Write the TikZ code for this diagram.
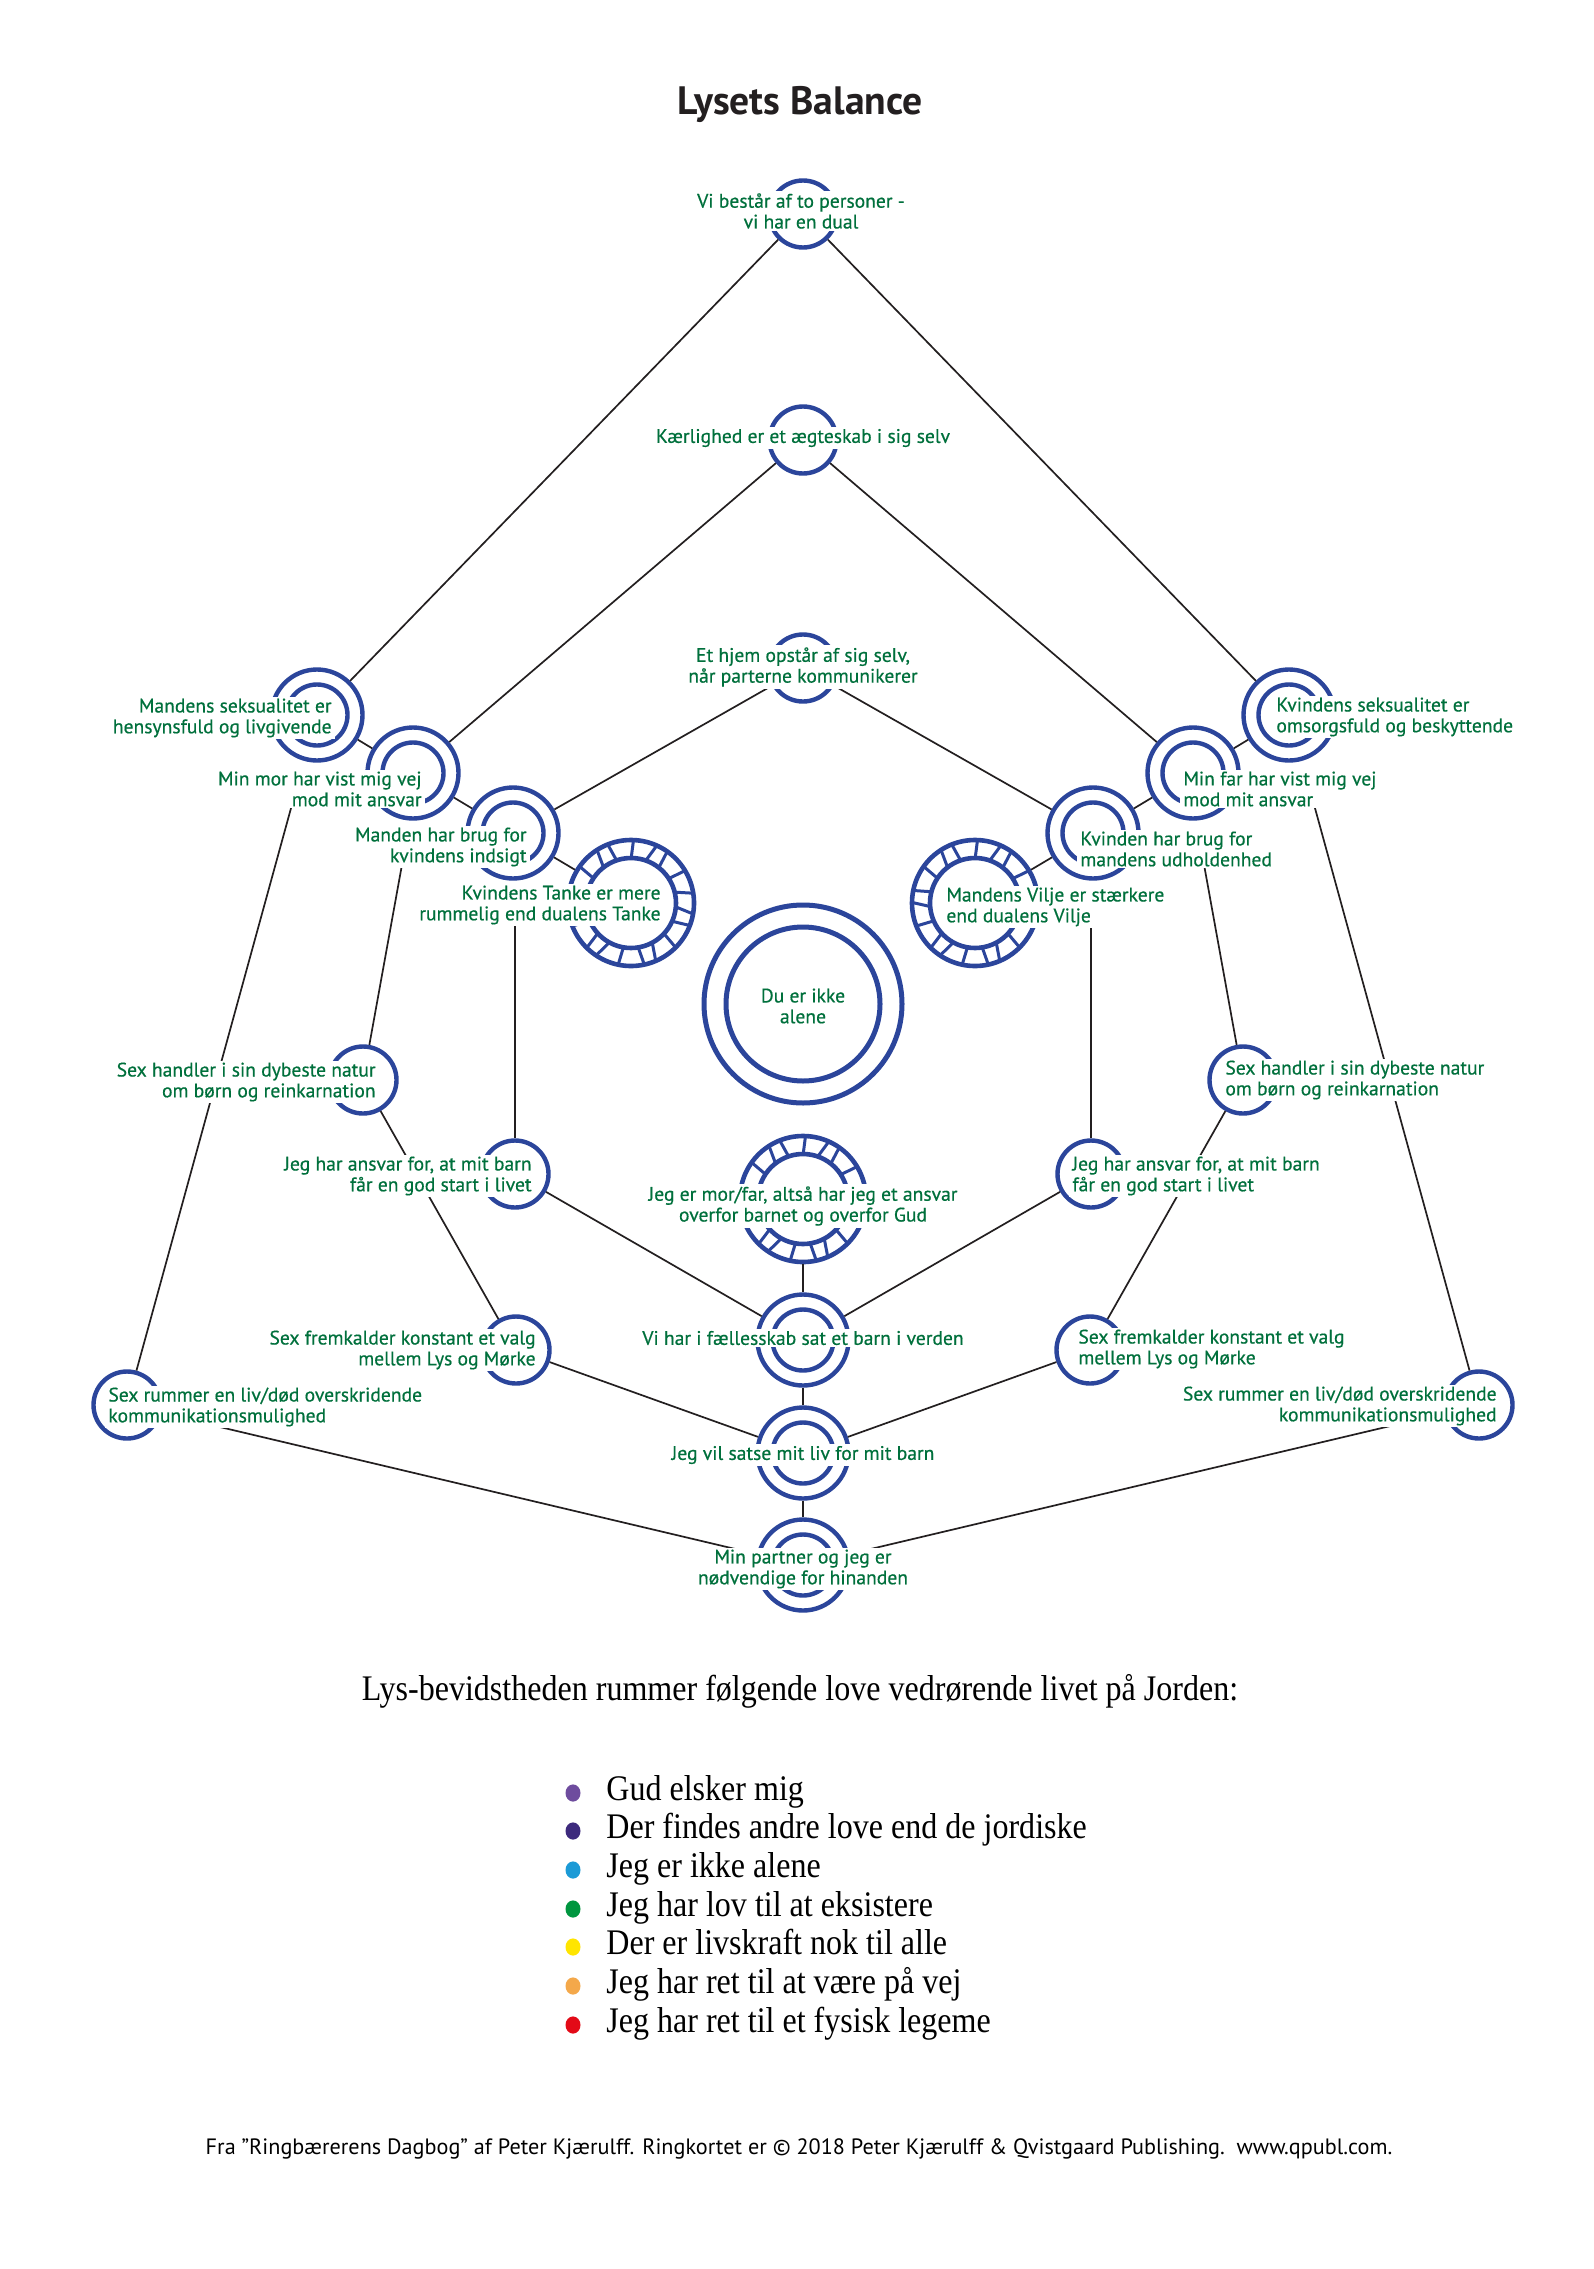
\documentclass[tikz,border=0pt]{standalone}
\usepackage{fontspec}
\setmainfont{PT Sans}
\newfontfamily\lblfont[FakeBold=0.5]{PT Sans}
\newfontfamily\legendfont[FakeStretch=0.89]{Liberation Serif}
\newfontfamily\footfont{PT Sans}
\usetikzlibrary{calc,shapes.geometric}
\definecolor{ringblue}{HTML}{2B459B}
\definecolor{txtgreen}{HTML}{00703C}
\definecolor{linegray}{HTML}{231F20}
\definecolor{titlegray}{HTML}{231F20}
\definecolor{bA}{HTML}{6E4C9E}
\definecolor{bB}{HTML}{3D2A7D}
\definecolor{bC}{HTML}{1B9AD6}
\definecolor{bD}{HTML}{00963F}
\definecolor{bE}{HTML}{FFE500}
\definecolor{bF}{HTML}{F4A84A}
\definecolor{bG}{HTML}{E30A17}
\newcommand{\cogspokes}[1]{%
  \foreach \i in {0,...,18}{%
    \pgfmathsetmacro\aa{\i*360/19+5}%
    \pgfmathsetmacro\tw{mod(\i,3)==0 ? 5 : (mod(\i,3)==1 ? -3 : 2)}%
    \draw[ringblue,line width=1.5pt,line join=round]
      ($(#1.center)+(\aa:45)$) -- ($(#1.center)+(\aa+\tw:63)$);
  }%
}
\begin{document}
\begin{tikzpicture}[x=0.5pt,y=-0.5pt,
  sring/.style={circle,draw=ringblue,line width=2.2pt,inner sep=0pt,minimum size=33.5pt},
  dring/.style={circle,draw=ringblue,line width=2.2pt,inner sep=0pt,minimum size=45.5pt},
  cogring/.style={circle,draw=ringblue,line width=2.3pt,inner sep=0pt,minimum size=63pt},
  bigring/.style={circle,draw=ringblue,line width=2.5pt,inner sep=0pt,minimum size=99pt},
  innerring/.style={draw=ringblue,line width=2.2pt},
  conn/.style={draw=linegray,line width=0.85pt},
  lbl/.style={fill=white,text=txtgreen,font=\lblfont\fontsize{9.8}{10.4}\selectfont,inner xsep=1.5pt,inner ysep=1pt},
  lblR/.style={lbl,align=right,anchor=east},
  lblL/.style={lbl,align=left,anchor=west},
  lblC/.style={lbl,align=center},
  legtext/.style={anchor=west,font=\legendfont\fontsize{18}{20}\selectfont,inner sep=0pt,text height=11pt,text depth=4pt},
  bullet/.style={ellipse,inner sep=0pt,minimum width=7.5pt,minimum height=8.6pt}
]
\fill[white] (0,0) rectangle (1594,2269);
\useasboundingbox (0,0) rectangle (1594,2269);

% title
\node[font=\fontsize{19.8}{22}\selectfont\bfseries,text=titlegray] (title) at (800,105) {Lysets Balance};

% rings
\node[sring] (rA) at (803,214) {};
\node[sring] (rB) at (803,440) {};
\node[sring] (rC) at (803,668) {};
\node[dring] (rL1) at (317,715) {};
\node[dring] (rL2) at (413,773) {};
\node[dring] (rL3) at (513,833) {};
\node[cogring] (rL4) at (631,903) {};
\node[dring] (rR1) at (1289,715) {};
\node[dring] (rR2) at (1193,773) {};
\node[dring] (rR3) at (1093,833) {};
\node[cogring] (rR4) at (975,903) {};
\node[sring] (rL5) at (363,1080) {};
\node[sring] (rR5) at (1243,1080) {};
\node[sring] (rL6) at (515,1174) {};
\node[sring] (rR6) at (1091,1174) {};
\node[sring] (rL7) at (516,1350) {};
\node[sring] (rR7) at (1090,1350) {};
\node[sring] (rL8) at (127,1405) {};
\node[sring] (rR8) at (1479,1405) {};
\node[bigring] (rM0) at (803,1004) {};
\node[cogring] (rM1) at (803,1199) {};
\node[dring] (rM2) at (803,1340) {};
\node[dring] (rM3) at (803,1453) {};
\node[dring] (rM4) at (803,1565) {};

\foreach \n in {rL1,rL2,rL3,rR1,rR2,rR3,rM2,rM3,rM4}
  \draw[innerring] (\n.center) circle[radius=30.5];
\foreach \n in {rL4,rR4,rM1}
  \draw[innerring,line width=2.3pt] (\n.center) circle[radius=45];
\draw[innerring,line width=2.5pt] (rM0.center) circle[radius=77];
\cogspokes{rL4}
\cogspokes{rR4}
\cogspokes{rM1}

% connector end points hidden behind labels
\coordinate (pL2) at (296,790);
\coordinate (pR2) at (1310,790);
\coordinate (pL3) at (405,848);
\coordinate (pR3) at (1201,848);
\coordinate (pL4) at (515,905);
\coordinate (pR4) at (1091,905);

% connectors
\draw[conn] (rA) -- (rL1);
\draw[conn] (rA) -- (rR1);
\draw[conn] (rB) -- (rL2);
\draw[conn] (rB) -- (rR2);
\draw[conn] (rC) -- (rL3);
\draw[conn] (rC) -- (rR3);
\draw[conn] (rL1) -- (rL2);
\draw[conn] (rL2) -- (rL3);
\draw[conn] (rL3) -- (rL4);
\draw[conn] (rR1) -- (rR2);
\draw[conn] (rR2) -- (rR3);
\draw[conn] (rR3) -- (rR4);
\draw[conn] (pL2) -- (rL8);
\draw[conn] (pR2) -- (rR8);
\draw[conn] (pL3) -- (rL5);
\draw[conn] (pR3) -- (rR5);
\draw[conn] (pL4) -- (rL6);
\draw[conn] (pR4) -- (rR6);
\draw[conn] (rL5) -- (rL7);
\draw[conn] (rR5) -- (rR7);
\draw[conn] (rL6) -- (rM2);
\draw[conn] (rR6) -- (rM2);
\draw[conn] (rL7) -- (rM3);
\draw[conn] (rR7) -- (rM3);
\draw[conn] (rL8) -- (rM4);
\draw[conn] (rR8) -- (rM4);
\draw[conn] (rM1) -- (rM2);
\draw[conn] (rM2) -- (rM3);
\draw[conn] (rM3) -- (rM4);

% labels
\node[lblC] (tA) at (801,211) {Vi består af to personer -\\vi har en dual};
\node[lblC] (tB) at (803,438) {Kærlighed er et ægteskab i sig selv};
\node[lblC] (tC) at (803,667) {Et hjem opstår af sig selv,\\når parterne kommunikerer};
\node[lblR] (tL1) at (335,718) {Mandens seksualitet er\\hensynsfuld og livgivende};
\node[lblR] (tL2) at (425,789) {Min mor har vist mig vej\\mod mit ansvar};
\node[lblR] (tL3) at (530,847) {Manden har brug for\\kvindens indsigt};
\node[lblR] (tL4) at (664,905) {Kvindens Tanke er mere\\rummelig end dualens Tanke};
\node[lblL] (tR1) at (1273,717) {Kvindens seksualitet er\\omsorgsfuld og beskyttende};
\node[lblL] (tR2) at (1180,789) {Min far har vist mig vej\\mod mit ansvar};
\node[lblL] (tR3) at (1077,849) {Kvinden har brug for\\mandens udholdenhed};
\node[lblL] (tR4) at (943,907) {Mandens Vilje er stærkere\\end dualens Vilje};
\node[lblR] (tL5) at (379,1082) {Sex handler i sin dybeste natur\\om børn og reinkarnation};
\node[lblR] (tL6) at (535,1176) {Jeg har ansvar for, at mit barn\\får en god start i livet};
\node[lblR] (tL7) at (539,1350) {Sex fremkalder konstant et valg\\mellem Lys og Mørke};
\node[lblL] (tL8) at (105,1407) {Sex rummer en liv/død overskridende\\kommunikationsmulighed};
\node[lblL] (tR5) at (1222,1080) {Sex handler i sin dybeste natur\\om børn og reinkarnation};
\node[lblL] (tR6) at (1069,1176) {Jeg har ansvar for, at mit barn\\får en god start i livet};
\node[lblL] (tR7) at (1075,1349) {Sex fremkalder konstant et valg\\mellem Lys og Mørke};
\node[lblR] (tR8) at (1500,1406) {Sex rummer en liv/død overskridende\\kommunikationsmulighed};
\node[lblC] (tM0) at (803,1006) {Du er ikke\\alene};
\node[lblC] (tM1) at (803,1206) {Jeg er mor/far, altså har jeg et ansvar\\overfor barnet og overfor Gud};
\node[lblC] (tM2) at (803,1338) {Vi har i fællesskab sat et barn i verden};
\node[lblC] (tM3) at (803,1455) {Jeg vil satse mit liv for mit barn};
\node[lblC] (tM4) at (803,1569) {Min partner og jeg er\\nødvendige for hinanden};

% legend
\node[font=\legendfont\fontsize{18}{20}\selectfont,inner sep=0pt,text height=11pt,text depth=4pt] (leghead) at (800,1693) {Lys-bevidstheden rummer følgende love vedrørende livet på Jorden:};
\node[bullet,fill=bA] (b1) at (573,1793) {};
\node[bullet,fill=bB] (b2) at (573,1831) {};
\node[bullet,fill=bC] (b3) at (573,1870) {};
\node[bullet,fill=bD] (b4) at (573,1909) {};
\node[bullet,fill=bE] (b5) at (573,1947) {};
\node[bullet,fill=bF] (b6) at (573,1986) {};
\node[bullet,fill=bG] (b7) at (573,2025) {};
\node[legtext] (l1) at (606,1793) {Gud elsker mig};
\node[legtext] (l2) at (606,1831) {Der findes andre love end de jordiske};
\node[legtext] (l3) at (606,1870) {Jeg er ikke alene};
\node[legtext] (l4) at (606,1909) {Jeg har lov til at eksistere};
\node[legtext] (l5) at (606,1947) {Der er livskraft nok til alle};
\node[legtext] (l6) at (606,1986) {Jeg har ret til at være på vej};
\node[legtext] (l7) at (606,2025) {Jeg har ret til et fysisk legeme};

% footer
\node[font=\footfont\fontsize{11.1}{13}\selectfont,text=black] (foot) at (799,2149) {Fra ”Ringbærerens Dagbog” af Peter Kjærulff. Ringkortet er © 2018 Peter Kjærulff \& Qvistgaard Publishing.\ \ www.qpubl.com.};
\end{tikzpicture}
\end{document}
